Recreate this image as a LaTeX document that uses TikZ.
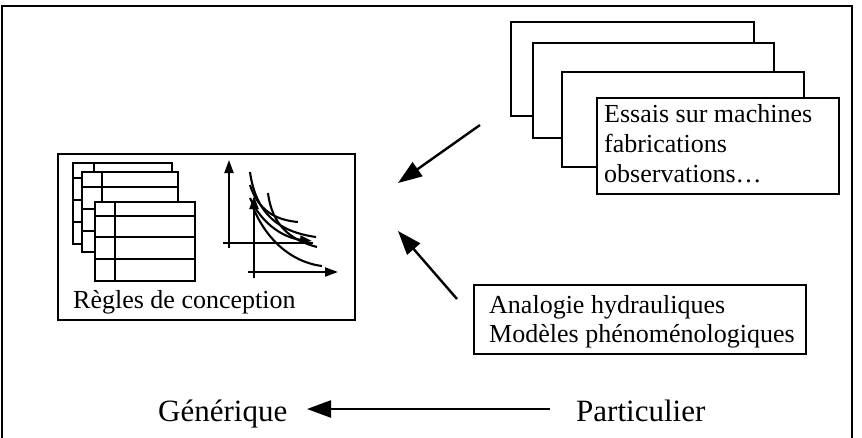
\documentclass[tikz,border=0pt]{standalone}
\usepackage{fontspec}
\setmainfont{Liberation Serif}
\usetikzlibrary{arrows.meta}
\begin{document}
\begin{tikzpicture}[x=1pt,y=-1pt,
  frame/.style={draw=black,line width=2.5pt},
  box/.style={draw=black,line width=2.4pt,fill=white,inner sep=0pt,anchor=north west},
  tbl/.style={draw=black,line width=2.1pt,fill=white},
  tline/.style={draw=black,line width=2.1pt},
  boxtext/.style={inner sep=0pt,anchor=base west,font=\fontsize{26}{30}\selectfont},
  label/.style={inner sep=0pt,anchor=base west,font=\fontsize{31}{36}\selectfont},
  bigarrow/.style={line width=2.4pt,-{Triangle[length=24pt,width=17pt]}},
  axis/.style={line width=2.1pt,-{Triangle[length=13pt,width=9pt]}},
  curve/.style={line width=2.1pt}
]
\useasboundingbox (0,0) rectangle (862,437);
% outer frame (open at bottom)
\draw[frame] (2,445) -- (2,6) -- (852,6) -- (852,445);

% stack of boxes top right
\node[box,minimum width=243pt,minimum height=94pt] (s1) at (510,21) {};
\node[box,minimum width=241pt,minimum height=95pt] (s2) at (532,42) {};
\node[box,minimum width=242pt,minimum height=95pt] (s3) at (561,71) {};
\node[box,minimum width=242pt,minimum height=96pt] (s4) at (596,97) {};
\node[boxtext] (t1) at (604,122) {Essais sur machines};
\node[boxtext] (t2) at (604,152) {fabrications};
\node[boxtext] (t3) at (604,182) {observations…};

% analogie box
\node[box,minimum width=332pt,minimum height=69pt] (an) at (473,284) {};
\node[boxtext] (a1) at (489,313) {Analogie hydrauliques};
\node[boxtext] (a2) at (489,342) {Modèles phénoménologiques};

% regles box
\node[box,minimum width=297pt,minimum height=166pt] (rg) at (57,153) {};
\node[boxtext] (r1) at (73,308) {Règles de conception};

% tables
\draw[tbl] (73,163) rectangle (172,244);
\draw[tline] (73,178) -- (172,178) (73,200) -- (172,200) (73,222) -- (172,222) (94,163) -- (94,244);
\draw[tbl] (82,172) rectangle (178,252);
\draw[tline] (82,187) -- (178,187) (82,209) -- (178,209) (82,231) -- (178,231) (102,172) -- (102,252);
\draw[tbl] (95,202) rectangle (195,281);
\draw[tline] (95,216) -- (195,216) (95,237) -- (195,237) (95,259) -- (195,259) (115,202) -- (115,281);

% chart
\draw[axis] (229,248) -- (229,160);
\draw[tline] (223,243) -- (313,243);
\draw[axis] (254,278) -- (254,196);
\draw[axis] (248,272) -- (338,272);
\draw[curve] (250,172) .. controls (256,215) and (280,232) .. (316,237);
\draw[curve] (268,193) .. controls (272,225) and (290,240) .. (317,247);
\draw[curve] (250,185) .. controls (258,210) and (275,220) .. (298,222);
\draw[curve] (252,205) .. controls (265,238) and (290,262) .. (322,266);
\draw[curve,-{Triangle[length=12pt,width=8pt]}] (250,198) .. controls (262,225) and (285,238) .. (312,241);

% arrows
\coordinate (ea) at (480,125);
\coordinate (eb) at (398,183);
\coordinate (aa) at (457,299);
\coordinate (ab) at (398,231);
\draw[bigarrow] (ea) -- (eb);
\draw[bigarrow] (aa) -- (ab);

% bottom
\node[label] (gen) at (158,421) {Générique};
\node[label] (par) at (576,421) {Particulier};
\coordinate (ba) at (550,409);
\coordinate (bb) at (307,409);
\draw[bigarrow] (ba) -- (bb);
\end{tikzpicture}
\end{document}
